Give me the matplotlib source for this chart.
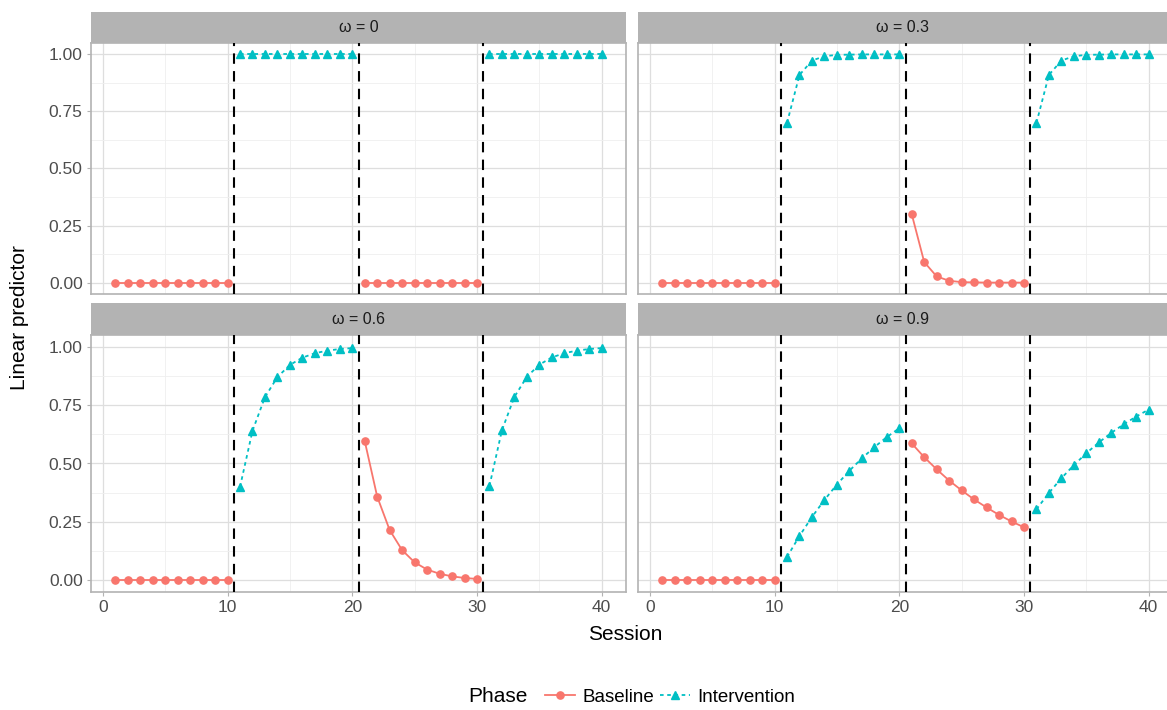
import matplotlib.pyplot as plt
import numpy as np

plt.rcParams['font.family'] = ['Liberation Sans', 'DejaVu Sans']

session = list(range(1, 41))
phase = ["Baseline"] * 10 + ["Intervention"] * 10 + ["Baseline"] * 10 + ["Intervention"] * 10
phase_changes = [10.5, 20.5, 30.5]

omega_labels = ["\u03c9 = 0", "\u03c9 = 0.3", "\u03c9 = 0.6", "\u03c9 = 0.9"]

pred_00 = ([0.0] * 10 + [1.0] * 10 + [0.0] * 10 + [1.0] * 10)
pred_03 = ([0.0] * 10
           + [0.700, 0.910, 0.973, 0.992, 0.998, 0.999, 1.000, 1.000, 1.000, 1.000]
           + [0.300, 0.090, 0.027, 0.008, 0.002, 0.001, 0.000, 0.000, 0.000, 0.000]
           + [0.700, 0.910, 0.973, 0.992, 0.998, 0.999, 1.000, 1.000, 1.000, 1.000])
pred_06 = ([0.0] * 10
           + [0.400, 0.640, 0.784, 0.870, 0.922, 0.953, 0.972, 0.983, 0.990, 0.994]
           + [0.596, 0.358, 0.215, 0.129, 0.077, 0.046, 0.028, 0.017, 0.010, 0.006]
           + [0.404, 0.642, 0.785, 0.871, 0.923, 0.954, 0.972, 0.983, 0.990, 0.994])
pred_09 = ([0.0] * 10
           + [0.100, 0.190, 0.271, 0.344, 0.410, 0.469, 0.522, 0.570, 0.613, 0.651]
           + [0.586, 0.527, 0.475, 0.427, 0.385, 0.346, 0.312, 0.280, 0.252, 0.227]
           + [0.304, 0.374, 0.437, 0.493, 0.544, 0.590, 0.631, 0.668, 0.701, 0.731])
preds = [pred_00, pred_03, pred_06, pred_09]

col_base = "#F8766D"
col_int = "#00BFC4"
W, H = 1167, 710

fig = plt.figure(figsize=(W / 100, H / 100), dpi=100)

# panel boxes in pixels: (left, right) and (strip_top, panel_top, panel_bottom)
# right column runs a little past the image edge, as in the reference
cols = [(91, 626), (638, 1173)]
rows = [(12, 43, 294), (303, 335, 592)]

session = np.array(session)
phase = np.array(phase)

for k in range(4):
    r, c = divmod(k, 2)
    x0, x1 = cols[c]
    st, pt, pb = rows[r]
    sax = fig.add_axes([x0 / W, 1 - pt / H, (x1 - x0) / W, (pt - st) / H])
    sax.set_facecolor("#B3B3B3")
    sax.set_xticks([]); sax.set_yticks([])
    for s in sax.spines.values():
        s.set_visible(False)
    sax.text(((x0 + x1) / 2 - x0 - (3 if c == 1 else 0)) / (x1 - x0), 0.5, omega_labels[k],
             ha="center", va="center", fontsize=11.5, color="#1A1A1A", transform=sax.transAxes)

    ax = fig.add_axes([x0 / W, 1 - pb / H, (x1 - x0) / W, (pb - pt) / H])
    y = np.array(preds[k])
    for start in range(0, 40, 10):
        seg = slice(start, start + 10)
        if phase[start] == "Baseline":
            ax.plot(session[seg], y[seg], color=col_base, lw=1.3, marker="o", ms=5.2, zorder=3)
        else:
            ax.plot(session[seg], y[seg], color=col_int, lw=1.3, ls=(0, (2, 2)),
                    marker="^", ms=5.8, zorder=3)
    for v in phase_changes:
        ax.axvline(v, color="black", lw=1.5, ls=(0, (5, 3.5)), zorder=4)

    ax.set_xlim(-0.95, 41.95)
    ax.set_ylim(-0.05, 1.05)
    ax.set_xticks([0, 10, 20, 30, 40])
    ax.set_xticks([5, 15, 25, 35], minor=True)
    ax.set_yticks([0, 0.25, 0.5, 0.75, 1.0])
    ax.set_yticks([0.125, 0.375, 0.625, 0.875], minor=True)
    ax.set_yticklabels(["0.00", "0.25", "0.50", "0.75", "1.00"])
    ax.grid(which="major", color="#DEDEDE", lw=0.9)
    ax.grid(which="minor", color="#EFEFEF", lw=0.6)
    ax.set_axisbelow(True)
    for s in ax.spines.values():
        s.set_color("#B3B3B3")
        s.set_linewidth(1.2)
    ax.tick_params(which="major", length=3, color="#B3B3B3", labelsize=12.5,
                   labelcolor="#4D4D4D", pad=3)
    ax.tick_params(which="minor", length=0)
    if r == 0:
        ax.tick_params(axis="x", which="major", length=0, labelbottom=False)
    if c == 1:
        ax.tick_params(axis="y", which="major", length=0, labelleft=False)

fig.text(625 / W, 1 - 635 / H, "Session", ha="center", va="center", fontsize=15)
fig.text(20 / W, 1 - 318 / H, "Linear predictor", ha="center", va="center",
         rotation=90, fontsize=15)

h1 = plt.Line2D([], [], color=col_base, lw=1.3, marker="o", ms=5.2)
h2 = plt.Line2D([], [], color=col_int, lw=1.3, ls=(0, (2, 2)), marker="^", ms=5.8)
fig.text(468 / W, 1 - 697 / H, "Phase", ha="left", va="center", fontsize=15)
fig.legend([h1, h2], ["Baseline", "Intervention"], loc="center left",
           bbox_to_anchor=(545 / W, 1 - 697 / H), ncol=2, frameon=False,
           fontsize=13.5, handlelength=1.6, handletextpad=0.4, columnspacing=0.3,
           borderaxespad=0, borderpad=0)

fig.savefig("out.png", dpi=100)
